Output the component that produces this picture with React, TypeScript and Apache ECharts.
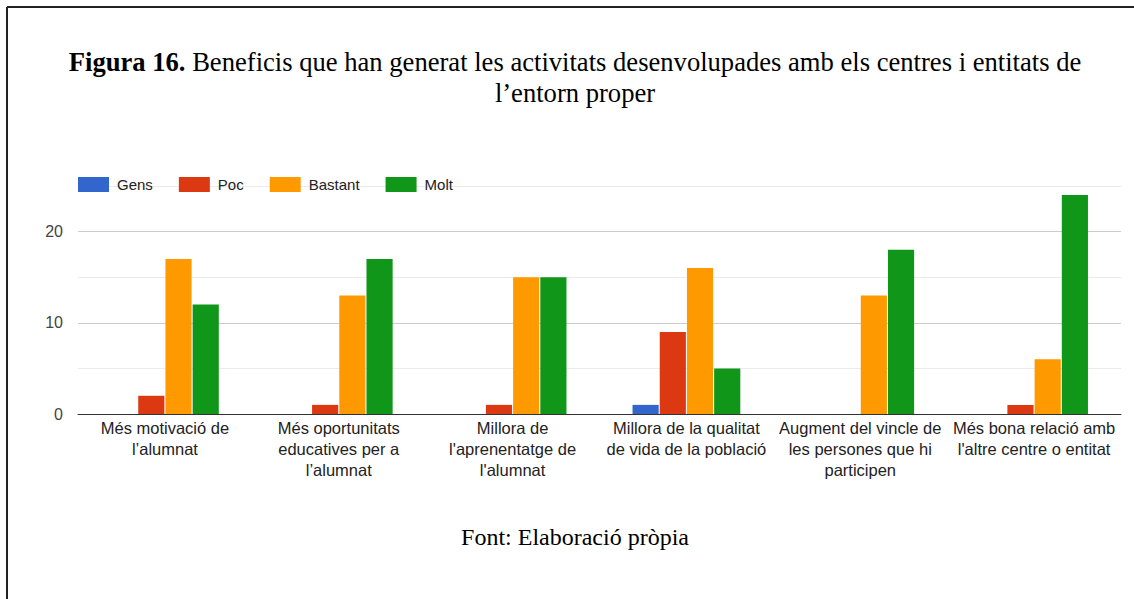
import React, { useEffect, useRef } from "react";
import * as echarts from "echarts";

const categories = [
  "Més motivació de\nl’alumnat",
  "Més oportunitats\neducatives per a\nl’alumnat",
  "Millora de\nl'aprenentatge de\nl'alumnat",
  "Millora de la qualitat\nde vida de la població",
  "Augment del vincle de\nles persones que hi\nparticipen",
  "Més bona relació amb\nl'altre centre o entitat",
];
const seriesNames = ["Gens", "Poc", "Bastant", "Molt"];
const gens = [0, 0, 0, 1, 0, 0];
const poc = [2, 1, 1, 9, 0, 1];
const bastant = [17, 13, 15, 16, 13, 6];
const molt = [12, 17, 15, 5, 18, 24];
const colors = ["#3366cc", "#dc3912", "#ff9900", "#109618"];
const yTicksShown = [0, 10, 20];

export default function App() {
  const ref = useRef<HTMLDivElement>(null);
  useEffect(() => {
    if (!ref.current) return;
    const chart = echarts.init(ref.current, null, { renderer: "svg" });
    const data = [gens, poc, bastant, molt];
    chart.setOption({
      animation: false,
      backgroundColor: "#ffffff",
      title: [
        {
          text: "{b|Figura 16.} Beneficis que han generat les activitats desenvolupades amb els centres i entitats de\nl’entorn proper",
          left: 575,
          top: 46,
          textAlign: "center",
          padding: 0,
          textStyle: {
            fontFamily: "Liberation Serif",
            fontSize: 26.6,
            fontWeight: "normal",
            color: "#000",
            lineHeight: 31,
            rich: {
              b: { fontFamily: "Liberation Serif", fontSize: 26.6, fontWeight: "bold", color: "#000", lineHeight: 31 },
            },
          },
        },
        {
          text: "Font: Elaboració pròpia",
          left: 575,
          top: 525,
          textAlign: "center",
          padding: 0,
          textStyle: { fontFamily: "Liberation Serif", fontSize: 24, fontWeight: "normal", color: "#000" },
        },
      ],
      graphic: [
        { type: "line", shape: { x1: 7, y1: 7, x2: 1134, y2: 7 }, style: { stroke: "#222", lineWidth: 2 } },
        { type: "line", shape: { x1: 7, y1: 7, x2: 7, y2: 599 }, style: { stroke: "#222", lineWidth: 2 } },
      ],
      legend: {
        left: 78,
        top: 177,
        padding: 0,
        itemWidth: 31,
        itemHeight: 15,
        itemGap: 26,
        icon: "rect",
        data: seriesNames,
        textStyle: { fontFamily: "Liberation Sans", fontSize: 15, color: "#222", padding: [0, 0, 0, 3] },
      },
      grid: { left: 78, right: 13, top: 186, bottom: 185 },
      xAxis: {
        type: "category",
        data: categories,
        axisLine: { lineStyle: { color: "#333", width: 1 } },
        axisTick: { show: false },
        axisLabel: {
          interval: 0,
          fontFamily: "Liberation Sans",
          fontSize: 16.5,
          color: "#222",
          lineHeight: 21,
          margin: 3,
        },
      },
      yAxis: {
        type: "value",
        min: 0,
        max: 25,
        interval: 5,
        axisLine: { show: false },
        axisTick: { show: false },
        splitLine: { lineStyle: { color: ["#cccccc", "#ebebeb"], width: 1 } },
        axisLabel: {
          fontFamily: "Liberation Sans",
          fontSize: 16,
          color: "#444",
          margin: 15,
          formatter: (v: number) => (yTicksShown.includes(v) ? String(v) : ""),
        },
      },
      series: seriesNames.map((name, i) => ({
        name,
        type: "bar",
        data: data[i],
        barGap: "4%",
        barCategoryGap: "38%",
        itemStyle: { color: colors[i] },
      })),
    });
    return () => chart.dispose();
  }, []);
  return (
    <div
      ref={ref}
      style={{ position: "fixed", left: 0, top: 0, width: 1134, height: 599 }}
    />
  );
}
